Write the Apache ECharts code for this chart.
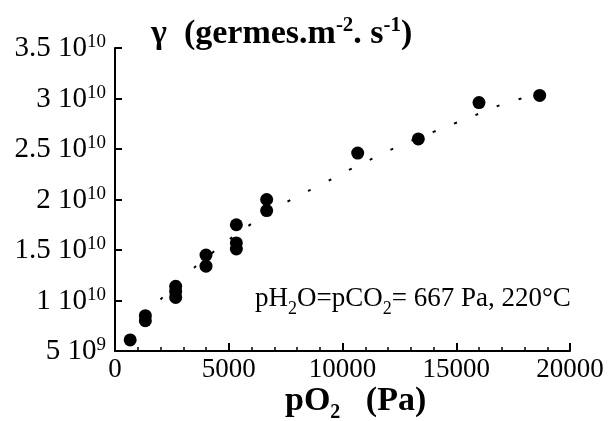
<!DOCTYPE html>
<html><head><meta charset="utf-8">
<script src="https://cdn.jsdelivr.net/npm/echarts@6/dist/echarts.min.js"></script>
<style>html,body{margin:0;padding:0;background:#fff}#c{width:614px;height:421px}</style>
</head><body><div id="c"></div>
<script>
// measured points: pO2 (Pa) and nucleation rate gamma (germes m^-2 s^-1)
const pO2 = [667, 1334, 1334, 2667, 2667, 2667, 4000, 4000, 5334, 5334, 5334, 6667, 6667, 10667, 13334, 16000, 18667];
const gamma = [6.1e9, 8.5e9, 8.0e9, 11.4e9, 10.9e9, 10.3e9, 14.5e9, 13.4e9, 17.5e9, 15.7e9, 15.1e9, 20.0e9, 18.9e9, 24.6e9, 26.0e9, 29.6e9, 30.3e9];
// dotted fit curve
const fitX = [2000, 3000, 4000, 5000, 6000, 7000, 8000, 9000, 10000, 11000, 12000, 13000, 14000, 15000, 16000, 17000, 18000, 18500];
const fitY = [10.1e9, 12.3e9, 14.2e9, 16.0e9, 17.6e9, 19.0e9, 20.3e9, 21.4e9, 22.6e9, 23.7e9, 24.8e9, 25.8e9, 26.7e9, 27.6e9, 28.5e9, 29.4e9, 30.1e9, 30.45e9];
const xTicks = [0, 5000, 10000, 15000, 20000];
const yTicks = [5e9, 1e10, 1.5e10, 2e10, 2.5e10, 3e10, 3.5e10];

const FONT = '"Liberation Serif", "Times New Roman", serif';
const chart = echarts.init(document.getElementById('c'), null, {renderer: 'canvas'});

function yLabel(v) {
  const e = Math.floor(Math.log10(v) + 1e-9);
  const m = Math.round(v / Math.pow(10, e) * 10) / 10;
  return '{m|' + m + ' 10}{s|' + e + '}';
}

const xMin = xTicks[0], xMax = xTicks[xTicks.length - 1];

const option = {
  backgroundColor: '#fff',
  animation: false,
  grid: {left: 115, right: 44, top: 48, bottom: 70, containLabel: false},
  title: [
    {
      text: '{b|γ  (germes.m}{bs|-2}{b|. s}{bs|-1}{b|)}',
      left: 146, top: 10,
      textStyle: {
        rich: {
          b: {fontFamily: FONT, fontWeight: 'bold', fontSize: 34, color: '#000', lineHeight: 36, verticalAlign: 'bottom'},
          bs: {fontFamily: FONT, fontWeight: 'bold', fontSize: 21, color: '#000', lineHeight: 22, verticalAlign: 'top'}
        }
      }
    },
    {
      text: '{t|pH}{sub|2}{t|O=pCO}{sub|2}{t|= 667 Pa, 220°C}',
      left: 250, top: 280,
      textStyle: {
        fontWeight: 'normal',
        rich: {
          t: {fontFamily: FONT, fontWeight: 'normal', fontSize: 27, color: '#000', lineHeight: 28, verticalAlign: 'middle'},
          sub: {fontFamily: FONT, fontWeight: 'normal', fontSize: 18, color: '#000', lineHeight: 18, padding: [15, 0, 0, 0], verticalAlign: 'top'}
        }
      }
    },
    {
      text: '{b|pO}{sub|2}{b|   (Pa)}',
      left: 280, top: 380,
      textStyle: {
        rich: {
          b: {fontFamily: FONT, fontWeight: 'bold', fontSize: 34, color: '#000', lineHeight: 32, verticalAlign: 'middle'},
          sub: {fontFamily: FONT, fontWeight: 'bold', fontSize: 20, color: '#000', lineHeight: 20, padding: [18, 0, 0, 0], verticalAlign: 'top'}
        }
      }
    }
  ],
  xAxis: {
    type: 'value', min: xMin, max: xMax, interval: 5000,
    axisLine: {show: true, onZero: false, lineStyle: {color: '#000', width: 2}},
    axisTick: {show: true, inside: true, length: 8, lineStyle: {color: '#000', width: 2}},
    minorTick: {show: true, splitNumber: 5, length: 4, lineStyle: {color: '#000', width: 1.5}},
    splitLine: {show: false},
    axisLabel: {color: '#000', fontFamily: FONT, fontSize: 27, margin: 5, formatter: v => String(v)}
  },
  yAxis: {
    type: 'value', min: yTicks[0], max: yTicks[yTicks.length - 1], interval: 5e9,
    axisLine: {show: true, onZero: false, lineStyle: {color: '#000', width: 2}},
    axisTick: {show: true, inside: true, length: 7, lineStyle: {color: '#000', width: 2}},
    splitLine: {show: false},
    axisLabel: {
      color: '#000', margin: 9, formatter: yLabel,
      rich: {
        m: {fontFamily: FONT, fontSize: 29, color: '#000', lineHeight: 30, verticalAlign: 'bottom'},
        s: {fontFamily: FONT, fontSize: 19, color: '#000', lineHeight: 16, verticalAlign: 'top'}
      }
    }
  },
  series: [
    {
      type: 'line', data: fitX.map((x, i) => [x, fitY[i]]), smooth: true, symbol: 'none',
      lineStyle: {color: '#000', width: 2, type: [3, 20]}, z: 1
    },
    {
      type: 'scatter', data: pO2.map((x, i) => [x, gamma[i]]), symbol: 'circle', symbolSize: 13,
      itemStyle: {color: '#000', opacity: 1}, z: 2
    }
  ]
};
chart.setOption(option);
</script>
</body></html>
